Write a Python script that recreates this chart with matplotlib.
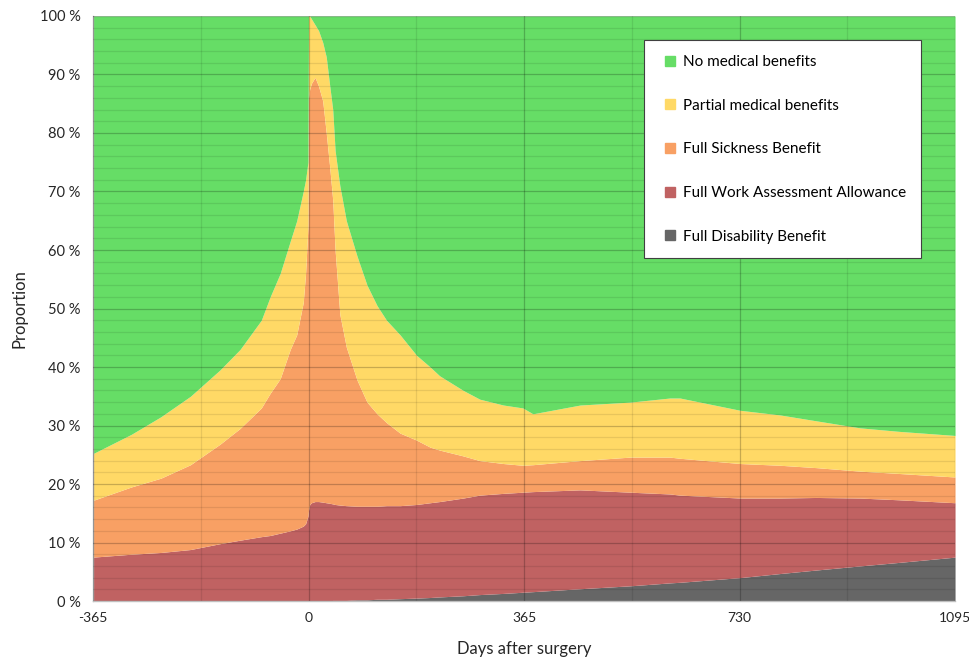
import numpy as np
import matplotlib.pyplot as plt
from matplotlib.lines import Line2D
from matplotlib.ticker import MultipleLocator, FuncFormatter

plt.rcParams['font.family'] = ['Lato', 'DejaVu Sans']
plt.rcParams['axes.unicode_minus'] = False

# days relative to surgery, and cumulative upper edge (%) of each stacked layer
days = [-365, -300, -250, -200, -150, -116, -80, -65, -48, -31, -20, -9, -5, -1,
        0, 2, 5, 11, 17, 24, 30, 36, 41, 45, 53, 64, 82, 99, 116, 132, 155, 183,
        206, 222, 262, 290, 330, 363, 380, 460, 545, 612, 629, 731, 799, 860,
        934, 1000, 1095]
top_disability = [0, 0, 0, 0, 0, 0, 0, 0, 0, 0, 0, 0, 0, 0,
                  0, 0, 0, 0, 0, 0, 0, 0, 0.1, 0.1, 0.1, 0.1, 0.2, 0.2, 0.3, 0.3, 0.4, 0.5,
                  0.6, 0.7, 0.9, 1.1, 1.3, 1.5, 1.6, 2.1, 2.6, 3.1, 3.2, 4.0, 4.7, 5.3,
                  6.0, 6.6, 7.5]
top_waa = [7.5, 8.0, 8.3, 8.8, 9.8, 10.4, 11.0, 11.2, 11.6, 12.0, 12.3, 12.8, 13.2, 14.5,
           15.5, 16.5, 16.8, 17.0, 17.0, 16.9, 16.8, 16.7, 16.6, 16.5, 16.4, 16.3, 16.2, 16.2, 16.2, 16.3, 16.3, 16.5,
           16.8, 17.0, 17.6, 18.1, 18.4, 18.6, 18.7, 19.0, 18.6, 18.3, 18.1, 17.6, 17.6, 17.7,
           17.6, 17.3, 16.8]
top_sickness = [17.2, 19.5, 21.0, 23.3, 26.8, 29.5, 33.0, 35.5, 38.0, 43.0, 45.5, 51.0, 56.0, 64.0,
                86.0, 87.5, 88.5, 89.5, 88.0, 85.5, 80.0, 74.0, 68.5, 60.0, 49.0, 43.4, 37.8, 34.0, 32.0, 30.5, 28.7, 27.5,
                26.3, 25.8, 24.8, 24.0, 23.5, 23.2, 23.3, 24.0, 24.6, 24.6, 24.4, 23.5, 23.2, 22.8,
                22.2, 21.8, 21.2]
top_partial = [25.2, 28.5, 31.5, 35.0, 39.5, 43.0, 48.0, 52.0, 56.0, 61.5, 65.0, 70.0, 72.0, 75.0,
               100.0, 100.0, 99.5, 98.5, 97.5, 95.5, 93.0, 88.0, 84.0, 77.0, 71.0, 65.0, 59.0, 54.0, 50.5, 48.0, 45.5, 42.0,
               40.0, 38.5, 36.0, 34.5, 33.5, 33.0, 32.0, 33.5, 34.0, 34.7, 34.7, 32.6, 31.8, 30.8,
               29.6, 29.0, 28.3]
top_none = [100.0] * len(days)

labels = ['No medical benefits', 'Partial medical benefits', 'Full Sickness Benefit',
          'Full Work Assessment Allowance', 'Full Disability Benefit']
colors = ['#66DD66', '#FFD966', '#F8A064', '#C06262', '#666666']

fig = plt.figure(figsize=(9.7, 6.58), dpi=100)
ax = fig.add_axes([0.0959, 0.0866, 0.8887, 0.8891])

x = np.array(days)
edges = [np.zeros(len(days)), np.array(top_disability), np.array(top_waa),
         np.array(top_sickness), np.array(top_partial), np.array(top_none)]
layer_colors = colors[::-1]
for i in range(5):
    ax.fill_between(x, edges[i], edges[i + 1], color=layer_colors[i], lw=0, zorder=1)

ax.set_xlim(-365, 1095)
ax.set_ylim(0, 100)
ax.set_xticks([-365, 0, 365, 730, 1095])
ax.xaxis.set_minor_locator(MultipleLocator(182.5))
ax.set_yticks(np.arange(0, 101, 10))
ax.yaxis.set_minor_locator(MultipleLocator(2))
ax.yaxis.set_major_formatter(FuncFormatter(lambda v, p: f'{int(v)} %'))

ax.grid(True, which='major', color='#000000', alpha=0.22, lw=0.9, zorder=3)
ax.grid(True, which='minor', color='#000000', alpha=0.09, lw=0.9, zorder=3)
ax.set_axisbelow(False)

ax.tick_params(which='both', length=0)
ax.tick_params(axis='y', pad=9, labelsize=10.5, labelcolor='#262626')
ax.tick_params(axis='x', pad=8, labelsize=10, labelcolor='#262626')

for s in ['top', 'right']:
    ax.spines[s].set_visible(False)
for s in ['left', 'bottom']:
    ax.spines[s].set_color('#bfbfbf')
    ax.spines[s].set_linewidth(1.0)

ax.set_ylabel('Proportion', fontsize=12, color='#262626', labelpad=9)
ax.set_xlabel('Days after surgery', fontsize=12, color='#262626', labelpad=12)

handles = [Line2D([], [], marker='s', ls='', markersize=7, color=c) for c in colors]
leg = ax.legend(handles, labels, loc='upper left', bbox_to_anchor=(0.639, 0.959),
                fontsize=11, labelspacing=1.94, handletextpad=0.2, borderpad=0.98,
                handlelength=1.4, frameon=True, fancybox=False, framealpha=1,
                edgecolor='#404040', borderaxespad=0)
leg.get_frame().set_linewidth(0.8)
leg.set_zorder(5)

fig.savefig('out.png', dpi=100)
